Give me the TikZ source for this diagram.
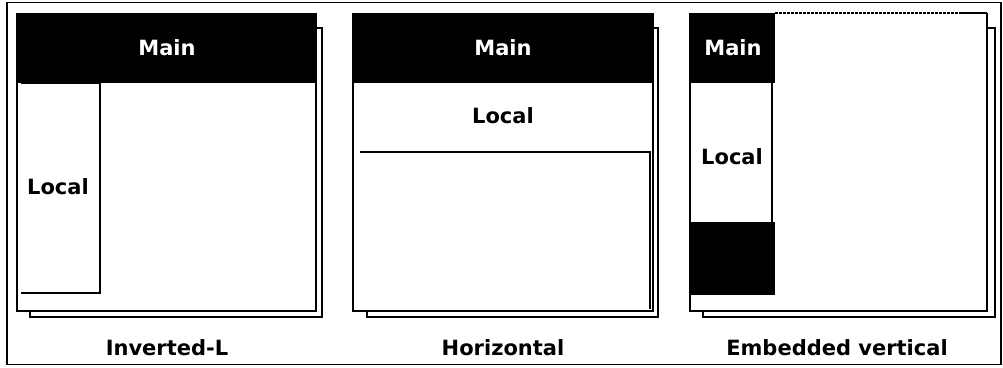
\documentclass[tikz,border=0pt]{standalone}
\usepackage{fontspec}
\setmainfont{DejaVu Sans}
\begin{document}
\begin{tikzpicture}[x=1pt,y=-1pt,
  frame/.style={draw=black,line width=2.4pt},
  shadowline/.style={draw=black,line width=1.6pt},
  thinline/.style={draw=black,line width=1.3pt},
  blackbox/.style={fill=black},
  lbl/.style={font=\bfseries\fontsize{21}{24}\selectfont,inner sep=0pt,anchor=center},
  wlbl/.style={lbl,text=white},
  captext/.style={lbl}]
\useasboundingbox (0,0) rectangle (1003,367);
\draw[line width=1.6pt] (7,2.5) rectangle (1001,364.5);

% ---------- Panel 1: Inverted-L
\draw[shadowline] (30,311) -- (30,317) -- (322,317) -- (322,28) -- (316,28);
\fill[blackbox] (17,13) rectangle (316,83);
\draw[frame] (17,13) -- (17,311) -- (316,311) -- (316,13);
\draw[thinline] (21,83) -- (100,83) -- (100,293) -- (21,293);
\node[wlbl] (main1) at (167,48) {Main};
\node[lbl] (local1) at (58,187) {Local};
\node[captext] (cap1) at (167,348) {Inverted-L};

% ---------- Panel 2: Horizontal
\draw[shadowline] (367,311) -- (367,317) -- (658,317) -- (658,28) -- (653,28);
\fill[blackbox] (353,13) rectangle (653,83);
\draw[frame] (353,13) -- (353,311) -- (653,311) -- (653,13);
\draw[thinline] (360,152) -- (650,152) -- (650,309);
\node[wlbl] (main2) at (503,48) {Main};
\node[lbl] (local2) at (503,116) {Local};
\node[captext] (cap2) at (503,348) {Horizontal};

% ---------- Panel 3: Embedded vertical
\draw[shadowline] (703,311) -- (703,317) -- (995,317) -- (995,28) -- (987,28);
\fill[blackbox] (690,13) rectangle (775,83);
\fill[blackbox] (690,222) rectangle (775,295);
\draw[frame] (987,13) -- (987,311) -- (690,311) -- (690,13);
\draw[line width=2pt,dash pattern=on 2.5pt off 1.5pt] (775,13) -- (960,13);
\draw[line width=2pt] (960,13) -- (987,13);
\draw[thinline] (772,83) -- (772,222);
\node[wlbl] (main3) at (733,48) {Main};
\node[lbl] (local3) at (732,157) {Local};
\node[captext] (cap3) at (837,348) {Embedded vertical};
\end{tikzpicture}
\end{document}
